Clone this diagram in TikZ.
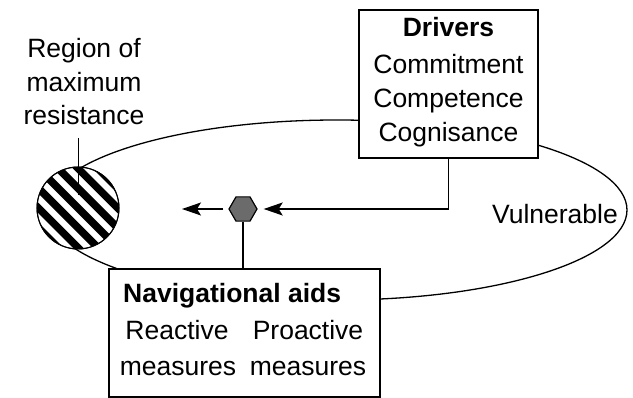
\documentclass[tikz,border=0pt]{standalone}
\usepackage{fontspec}
\setmainfont{Liberation Sans}
\usetikzlibrary{shapes.geometric,arrows.meta,calc}
\begin{document}
\begin{tikzpicture}[x=1pt,y=-1pt,
  txt/.style={font=\fontsize{26.5}{34}\selectfont, inner sep=0pt, anchor=base},
  boldtxt/.style={txt, font=\fontsize{26.5}{34}\selectfont\bfseries},
  boxst/.style={draw, line width=1.5pt, fill=white, inner sep=0pt},
  conn/.style={line width=1.3pt},
  arr/.style={conn, -{Stealth[length=19pt,width=13pt,inset=4pt]}}]
\useasboundingbox (0,0) rectangle (633,398);

% orbit ellipse
\draw[conn] (337,210) ellipse [x radius=290pt, y radius=90pt];

% region of maximum resistance
\node[circle, draw, line width=1pt, minimum size=82pt, fill=white, inner sep=0pt] (res) at (78,208) {};
\begin{scope}
  \clip (78,208) circle (41pt);
  \foreach \k in {-3,...,3}{
    \draw[line width=7.5pt] ([shift={(\k*9.9-60,-\k*9.9-60)}]78,208) -- ++(120,120);
  }
\end{scope}
\draw[line width=1pt] (res.center) circle (41pt);

\node[txt] (lr1) at (84,58) {Region of};
\node[txt] (lr2) at (84,92) {maximum};
\node[txt] (lr3) at (84,125) {resistance};
\coordinate (rtop) at (78,138);
\coordinate (rin) at (78,195);
\draw[line width=1pt] (rtop) -- (rin);

% drivers box
\node[boxst, minimum width=179pt, minimum height=148pt] (drv) at (448.5,84) {};
\node[boldtxt] (d1) at (448.5,37) {Drivers};
\node[txt] (d2) at (448.5,74) {Commitment};
\node[txt] (d3) at (448.5,108) {Competence};
\node[txt] (d4) at (448.5,142) {Cognisance};

% navigational aids box
\node[boxst, minimum width=271pt, minimum height=128pt] (nav) at (244.5,333) {};
\node[boldtxt, anchor=base west] (n1) at (123,303) {Navigational aids};
\node[txt] (n2) at (177,340) {Reactive};
\node[txt] (n3) at (178,376) {measures};
\node[txt] (n4) at (308,340) {Proactive};
\node[txt] (n5) at (308,376) {measures};

% vulnerable
\node[txt] (vul) at (555,224) {Vulnerable};

% hexagon
\node[regular polygon, regular polygon sides=6, minimum size=28pt, draw, line width=1.2pt, fill=black!58, inner sep=0pt] (hex) at (243,209) {};

% connectors
\draw[arr, shorten >=6pt] (drv.south) |- (hex.east);
\coordinate (lend) at (182,209);
\draw[arr, shorten <=5pt] (hex.west) -- (lend);
\draw[conn] (hex.south) -- (hex.south |- nav.north);
\end{tikzpicture}
\end{document}
